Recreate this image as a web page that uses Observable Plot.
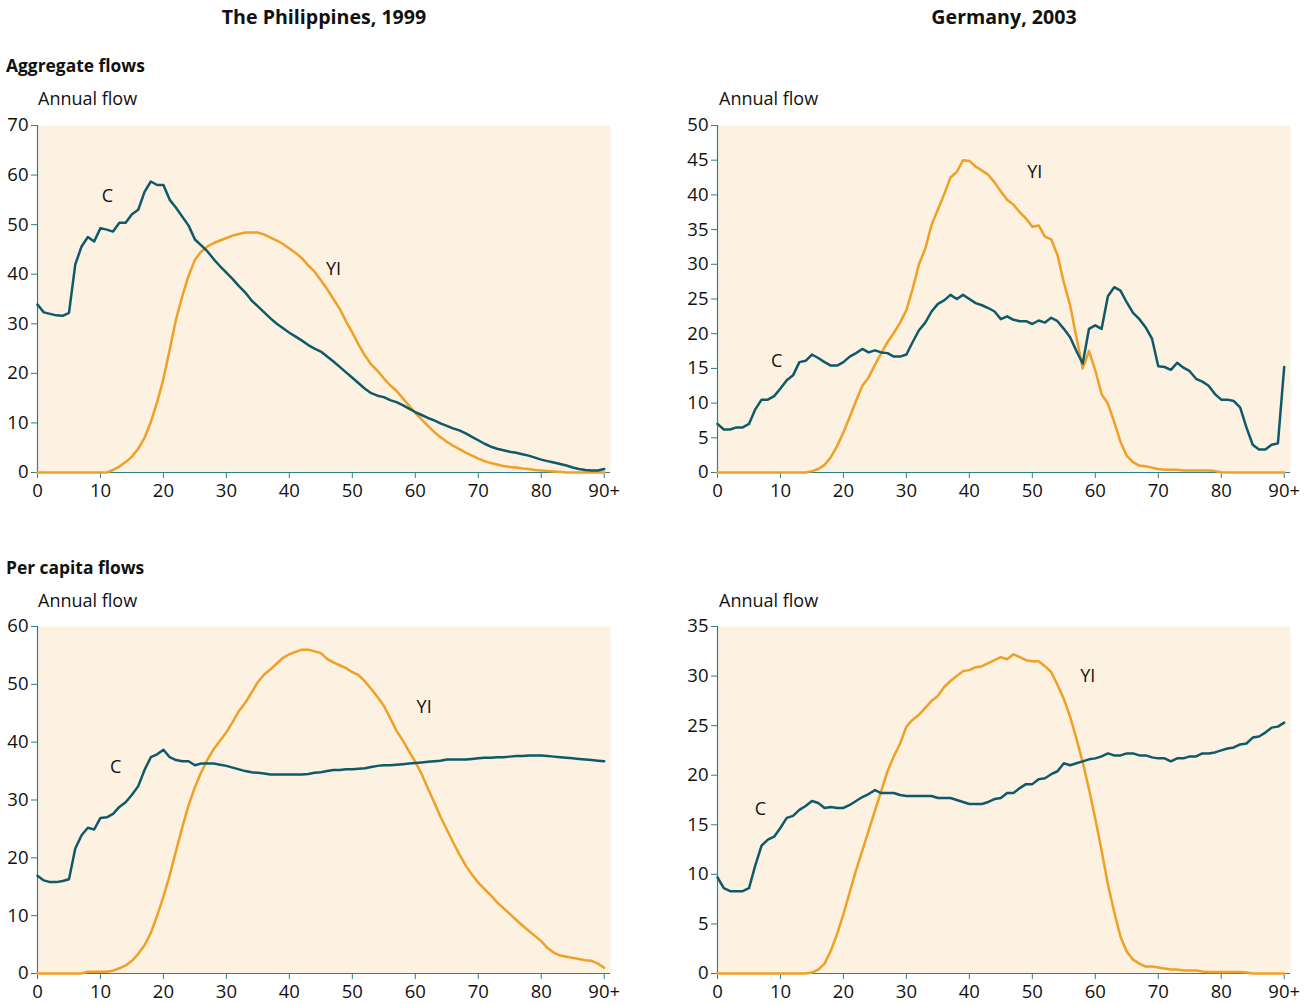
<!DOCTYPE html>
<html><head><meta charset="utf-8">
<script src="https://cdn.jsdelivr.net/npm/d3@7"></script>
<script src="https://cdn.jsdelivr.net/npm/@observablehq/plot@0.6"></script>
<style>
body{margin:0;background:#fff;font-family:"Open Sans",sans-serif;}
#wrap{position:relative;width:1308px;height:1004px;overflow:hidden;}
.t{position:absolute;white-space:nowrap;color:#111;line-height:1;}
.title{font-weight:700;font-size:19.6px;transform:translateX(-50%);}
.sec{font-weight:700;font-size:17.4px;}
.unit{font-size:18px;}
.panel{position:absolute;width:654px;}
.panel svg{max-width:none !important;display:block;}
</style></head><body><div id="wrap"></div>
<script>
const ages = d3.range(0, 91);
const xTicks = [0,10,20,30,40,50,60,70,80,90];

const phAggC = [33.9,32.3,32.0,31.7,31.6,32.2,42.0,45.6,47.5,46.6,49.3,49.0,48.6,50.4,50.4,52.1,53.0,56.6,58.7,58.0,58.0,55.0,53.4,51.6,49.8,47.0,45.8,44.6,43.0,41.6,40.3,39.0,37.6,36.3,34.7,33.5,32.3,31.1,30.0,29.1,28.2,27.4,26.6,25.7,25.0,24.4,23.4,22.4,21.3,20.2,19.1,18.0,16.9,16.0,15.5,15.2,14.6,14.2,13.6,12.9,12.2,11.6,11.0,10.5,9.9,9.4,8.9,8.5,7.9,7.2,6.5,5.8,5.2,4.8,4.5,4.2,4.0,3.7,3.4,3.0,2.6,2.3,2.0,1.7,1.4,1.0,0.7,0.5,0.4,0.4,0.7];
const phAggYI = [0,0,0,0,0,0,0,0,0,0,0,0,0.5,1.2,2.1,3.2,4.8,7.0,10.2,14.2,18.9,24.8,30.9,35.6,39.7,42.9,44.6,45.6,46.3,46.8,47.3,47.8,48.1,48.4,48.4,48.4,48.0,47.4,46.8,46.1,45.2,44.3,43.2,41.8,40.5,38.8,37.0,35.0,33.0,30.5,28.2,25.8,23.6,21.8,20.5,19.0,17.6,16.5,15.0,13.5,12.0,10.7,9.4,8.2,7.1,6.2,5.4,4.7,4.0,3.4,2.8,2.3,1.9,1.6,1.3,1.1,1.0,0.8,0.7,0.5,0.4,0.3,0.2,0.1,0,0,0,0,0,0,0];
const deAggC = [7.0,6.2,6.2,6.5,6.5,7.0,9.1,10.5,10.5,11.0,12.1,13.3,14.0,15.9,16.1,17.0,16.5,15.9,15.4,15.4,15.9,16.7,17.2,17.8,17.3,17.6,17.3,17.2,16.7,16.7,17.0,18.8,20.5,21.6,23.2,24.3,24.8,25.6,25.0,25.6,25.0,24.4,24.1,23.7,23.2,22.1,22.5,22.0,21.8,21.8,21.4,21.9,21.6,22.3,21.8,20.7,19.5,17.5,15.7,20.7,21.2,20.7,25.4,26.7,26.2,24.5,23.0,22.1,20.9,19.3,15.3,15.2,14.8,15.8,15.1,14.6,13.5,13.1,12.5,11.3,10.5,10.5,10.3,9.4,6.5,4.0,3.3,3.3,4.0,4.2,15.2];
const deAggYI = [0,0,0,0,0,0,0,0,0,0,0,0,0,0,0,0.2,0.5,1.1,2.2,3.8,5.8,8.0,10.3,12.5,13.7,15.5,17.2,18.8,20.1,21.6,23.4,26.5,30.0,32.3,35.7,37.9,40.1,42.5,43.3,45.0,44.9,44.1,43.5,42.9,41.8,40.5,39.3,38.6,37.5,36.6,35.4,35.6,34.0,33.6,31.3,27.4,24.1,19.5,15.0,17.5,14.7,11.3,9.9,7.3,4.4,2.4,1.5,1.0,0.9,0.7,0.5,0.4,0.4,0.4,0.3,0.3,0.3,0.3,0.3,0.2,0.05,0,0,0,0,0,0,0,0,0,0];
const phPcC = [16.9,16.1,15.8,15.8,16.0,16.3,21.6,23.9,25.2,24.9,26.9,27.0,27.6,28.8,29.6,30.9,32.4,35.2,37.4,37.9,38.7,37.4,36.9,36.7,36.7,36.0,36.3,36.3,36.3,36.1,35.9,35.6,35.3,35.0,34.8,34.7,34.6,34.4,34.4,34.4,34.4,34.4,34.4,34.5,34.7,34.8,35.0,35.2,35.2,35.3,35.3,35.4,35.5,35.7,35.9,36.0,36.0,36.1,36.2,36.3,36.4,36.5,36.6,36.7,36.8,37.0,37.0,37.0,37.0,37.1,37.2,37.3,37.3,37.4,37.4,37.5,37.6,37.6,37.7,37.7,37.7,37.6,37.5,37.4,37.3,37.2,37.1,37.0,36.9,36.8,36.7];
const phPcYI = [0,0,0,0,0,0,0,0,0.3,0.3,0.3,0.3,0.5,0.9,1.4,2.2,3.4,4.9,7.0,10.0,13.3,17.0,21.2,25.3,29.1,32.2,34.8,37.0,38.8,40.3,41.7,43.5,45.4,46.8,48.6,50.4,51.7,52.6,53.6,54.6,55.2,55.6,56.0,56.0,55.7,55.4,54.4,53.8,53.3,52.8,52.1,51.6,50.5,49.2,47.8,46.3,44.2,42.0,40.3,38.4,36.6,34.5,32.0,29.6,27.1,24.9,22.7,20.6,18.7,17.1,15.7,14.6,13.5,12.3,11.3,10.3,9.3,8.3,7.4,6.5,5.6,4.4,3.6,3.1,2.9,2.7,2.5,2.3,2.2,1.7,1.0];
const dePcC = [9.7,8.6,8.3,8.3,8.3,8.6,10.9,12.9,13.5,13.8,14.7,15.7,15.9,16.5,16.9,17.4,17.2,16.7,16.8,16.7,16.7,17.0,17.4,17.8,18.1,18.5,18.2,18.2,18.2,18.0,17.9,17.9,17.9,17.9,17.9,17.7,17.7,17.7,17.5,17.3,17.1,17.1,17.1,17.3,17.6,17.7,18.2,18.2,18.7,19.1,19.1,19.6,19.7,20.1,20.4,21.2,21.0,21.2,21.4,21.6,21.7,21.9,22.2,22.0,22.0,22.2,22.2,22.0,22.0,21.8,21.7,21.7,21.4,21.7,21.7,21.9,21.9,22.2,22.2,22.3,22.5,22.7,22.8,23.1,23.2,23.8,23.9,24.3,24.8,24.9,25.3];
const dePcYI = [0,0,0,0,0,0,0,0,0,0,0,0,0,0,0,0.1,0.4,1.0,2.3,4.0,6.0,8.2,10.4,12.4,14.4,16.4,18.4,20.4,21.9,23.2,24.9,25.6,26.1,26.8,27.5,28.0,28.9,29.5,30.0,30.5,30.6,30.9,31.0,31.3,31.6,31.9,31.7,32.2,31.9,31.6,31.5,31.5,31.0,30.4,29.1,27.7,25.9,23.7,21.3,18.6,15.6,12.4,9.0,6.2,3.7,2.2,1.4,1.0,0.7,0.7,0.6,0.5,0.4,0.4,0.3,0.3,0.3,0.2,0.15,0.15,0.15,0.15,0.15,0.15,0.1,0,0,0,0,0,0];

// series label anchors (age, value)
const phAggLabels = [{x:11.1,y:55.7,t:"C"},{x:47,y:41,t:"YI"}];
const deAggLabels = [{x:9.4,y:16,t:"C"},{x:50.4,y:43.2,t:"YI"}];
const phPcLabels = [{x:12.4,y:35.6,t:"C"},{x:61.4,y:46,t:"YI"}];
const dePcLabels = [{x:6.8,y:16.6,t:"C"},{x:58.8,y:30,t:"YI"}];

const TEAL = "#0e5a6a", ORANGE = "#f0a025", BG = "#fdf1e1", AXIS = "#2f7f90", INK = "#111";

function panel(c, yi, yMax, yStep, labels, height, mb) {
  const data = ages.map((a, i) => ({age: a, C: c[i], YI: yi[i]}));
  return Plot.plot({
    width: 654, height, marginLeft: 37, marginRight: 44, marginTop: 15, marginBottom: mb,
    style: {fontFamily: "Open Sans", fontSize: "18.5px", color: INK, background: "transparent", overflow: "visible", maxWidth: "none"},
    x: {domain: [0, 91]},
    y: {domain: [0, yMax]},
    marks: [
      Plot.frame({fill: BG, stroke: null}),
      Plot.axisX({ticks: xTicks, tickFormat: d => d === 90 ? "90+" : String(d), tickSize: 6, tickPadding: 5, stroke: AXIS, fill: INK, label: null, fontSize: 18.5}),
      Plot.axisY({ticks: d3.range(0, yMax + 0.001, yStep), tickSize: 6, tickPadding: 3, stroke: AXIS, fill: INK, label: null, fontSize: 18.5}),
      Plot.ruleX([0], {stroke: AXIS, strokeWidth: 1.2}),
      Plot.ruleY([0], {stroke: AXIS, strokeWidth: 1.2}),
      Plot.line(data, {x: "age", y: "YI", stroke: ORANGE, strokeWidth: 2.5}),
      Plot.line(data, {x: "age", y: "C", stroke: TEAL, strokeWidth: 2.5}),
      Plot.text(labels, {x: "x", y: "y", text: "t", fontSize: 18, fill: INK})
    ]
  });
}

const wrap = document.getElementById("wrap");
function addText(cls, txt, left, top) {
  const d = document.createElement("div");
  d.className = "t " + cls; d.textContent = txt;
  d.style.left = left + "px"; d.style.top = top + "px";
  wrap.appendChild(d);
}
function addPanel(svg, left, top) {
  const d = document.createElement("div");
  d.className = "panel"; d.style.left = left + "px"; d.style.top = top + "px";
  d.appendChild(svg); wrap.appendChild(d);
}

addText("title", "The Philippines, 1999", 324, 7);
addText("title", "Germany, 2003", 1004, 7);
addText("sec", "Aggregate flows", 6, 57);
addText("sec", "Per capita flows", 6, 559);
addText("unit", "Annual flow", 38, 89);
addText("unit", "Annual flow", 719, 89);
addText("unit", "Annual flow", 38, 591);
addText("unit", "Annual flow", 719, 591);

addPanel(panel(phAggC, phAggYI, 70, 10, phAggLabels, 400, 38), 0, 110);
addPanel(panel(deAggC, deAggYI, 50, 5, deAggLabels, 400, 38), 680, 110);
addPanel(panel(phPcC, phPcYI, 60, 10, phPcLabels, 393, 31), 0, 611);
addPanel(panel(dePcC, dePcYI, 35, 5, dePcLabels, 393, 31), 680, 611);
</script></body></html>
